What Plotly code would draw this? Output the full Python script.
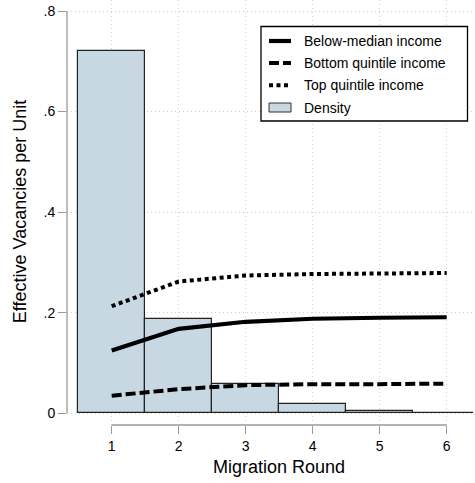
import plotly.graph_objects as go

# ---- data ----
rounds = [1, 2, 3, 4, 5, 6]
below_median = [0.125, 0.168, 0.182, 0.188, 0.190, 0.191]
bottom_quintile = [0.035, 0.048, 0.056, 0.058, 0.058, 0.059]
top_quintile = [0.213, 0.262, 0.274, 0.277, 0.278, 0.279]
density = [0.720, 0.188, 0.058, 0.018, 0.004, 0.001]

y_tickvals = [0, 0.2, 0.4, 0.6, 0.8]
y_ticktext = ["0", ".2", ".4", ".6", ".8"]
x_tickvals = [1, 2, 3, 4, 5, 6]
x_ticktext = ["1", "2", "3", "4", "5", "6"]

legend_labels = ["Below-median income", "Bottom quintile income", "Top quintile income", "Density"]

# ---- style ----
FONT = "Liberation Sans, Arial, Helvetica, sans-serif"
BAR_FILL = "#c8d8e2"
BAR_LINE = "#222222"
AXIS_COL = "#9a9a9a"
GRID_COL = "#cfcfcf"
W, H = 475, 483
ML, MR, MT, MB = 67, 2, 0, 58
PW, PH = W - ML - MR, H - MT - MB


def px(x):
    return (x - ML) / PW


def py(y):
    return (MT + PH - y) / PH


fig = go.Figure()

line_styles = [
    dict(color="black", width=4.2, dash="solid"),
    dict(color="black", width=4, dash="10px,4px"),
    dict(color="black", width=4, dash="4px,3.5px"),
]
series = [below_median, bottom_quintile, top_quintile]
for name, vals, ls in zip(legend_labels[:3], series, line_styles):
    fig.add_trace(go.Scatter(x=rounds, y=vals, mode="lines", name=name,
                             line=ls, showlegend=False, hoverinfo="skip"))

fig.add_trace(go.Bar(x=rounds, y=density, width=1, name=legend_labels[3],
                     marker=dict(color=BAR_FILL, line=dict(color=BAR_LINE, width=1.2)),
                     showlegend=False))

shapes = []
# y axis line (0 .. .8)
shapes.append(dict(type="line", xref="paper", yref="y", x0=0, x1=0,
                   y0=y_tickvals[0], y1=y_tickvals[-1],
                   line=dict(color=AXIS_COL, width=1.3)))
# x axis line (1 .. 6)
shapes.append(dict(type="line", xref="x", yref="paper", x0=x_tickvals[0], x1=x_tickvals[-1],
                   y0=0, y1=0, line=dict(color=AXIS_COL, width=1.3)))

# legend box
shapes.append(dict(type="rect", xref="paper", yref="paper",
                   x0=px(261), x1=px(467.5), y0=py(121), y1=py(26.5),
                   line=dict(color="black", width=1.3), fillcolor="white", layer="above"))
rows = [41, 63, 85.3, 107.5]
for ls, ry in zip(line_styles, rows[:3]):
    shapes.append(dict(type="line", xref="paper", yref="paper",
                       x0=px(269), x1=px(291), y0=py(ry), y1=py(ry),
                       line=dict(color="black", width=ls["width"], dash=ls["dash"]),
                       layer="above"))
shapes.append(dict(type="rect", xref="paper", yref="paper",
                   x0=px(269), x1=px(291), y0=py(rows[3] + 4.5), y1=py(rows[3] - 4.5),
                   line=dict(color="#333333", width=1), fillcolor=BAR_FILL, layer="above"))

annotations = []
for lab, ry in zip(legend_labels, rows):
    annotations.append(dict(text=lab, xref="paper", yref="paper", x=px(302), y=py(ry),
                            xanchor="left", yanchor="middle", showarrow=False,
                            font=dict(family=FONT, size=14, color="black")))
annotations.append(dict(text="Migration Round", xref="x", yref="paper", x=3.5, y=py(467),
                        xanchor="center", yanchor="middle", showarrow=False,
                        font=dict(family=FONT, size=18, color="black")))
annotations.append(dict(text="Effective Vacancies per Unit", xref="paper", yref="y",
                        x=px(20), y=0.4, textangle=-90,
                        xanchor="center", yanchor="middle", showarrow=False,
                        font=dict(family=FONT, size=18, color="black")))

xr_lo = 1 - (111.7 - ML) / 67.0
fig.update_layout(
    width=W, height=H,
    margin=dict(l=ML, r=MR, t=MT, b=MB, pad=0),
    paper_bgcolor="white", plot_bgcolor="white",
    font=dict(family=FONT, size=14, color="black"),
    bargap=0,
    shapes=shapes, annotations=annotations,
    xaxis=dict(range=[xr_lo, xr_lo + PW / 67.0], tickvals=x_tickvals, ticktext=x_ticktext,
               showline=False, zeroline=False,
               ticks="outside", ticklen=8, tickcolor=AXIS_COL, tickwidth=1.3,
               showgrid=True, gridcolor=GRID_COL, griddash="1px,3px", gridwidth=1,
               tickfont=dict(family=FONT, size=14, color="black"), fixedrange=True),
    yaxis=dict(range=[-(425 - 413.3) / 502.9, 0.8 + 11 / 502.9],
               tickvals=y_tickvals, ticktext=y_ticktext,
               showline=False, zeroline=False,
               ticks="outside", ticklen=8, tickcolor=AXIS_COL, tickwidth=1.3,
               showgrid=True, gridcolor=GRID_COL, griddash="1px,3px", gridwidth=1,
               tickfont=dict(family=FONT, size=14, color="black"), fixedrange=True),
)

fig.write_html("out.html")
